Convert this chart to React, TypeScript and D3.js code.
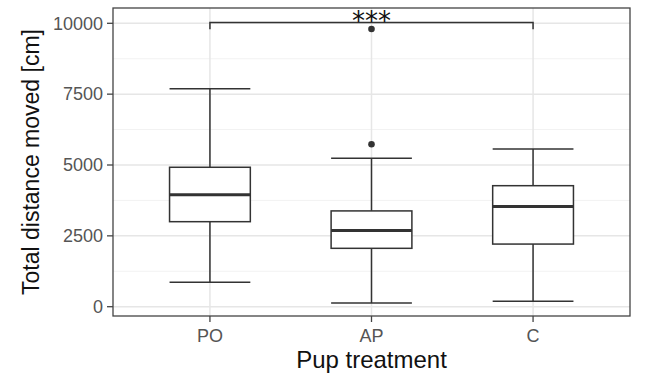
import React from "react";
import * as d3 from "d3";

const categories = ["PO", "AP", "C"];
const lowerWhisker = [860, 130, 190];
const q1Values = [3000, 2060, 2210];
const medianValues = [3950, 2690, 3540];
const q3Values = [4920, 3380, 4270];
const upperWhisker = [7690, 5235, 5565];
const outliers: { cat: string; value: number }[] = [
  { cat: "AP", value: 5730 },
  { cat: "AP", value: 9800 },
];
const yTicks = [0, 2500, 5000, 7500, 10000];
const yMinorTicks = [1250, 3750, 6250, 8750];
const bracket = { from: "PO", to: "C", y: 10030, tip: 9790, label: "***" };

const W = 650;
const H = 383;
const panel = { left: 113, right: 630, top: 8, bottom: 316 };

export default function App() {
  const x = d3
    .scaleBand<string>()
    .domain(categories)
    .range([panel.left, panel.right])
    .paddingOuter(0.1)
    .paddingInner(0);
  const xc = (c: string) => (x(c) as number) + x.bandwidth() / 2;
  const y = d3.scaleLinear().domain([0, 10000]).range([306.7, 23.3]);
  const boxW = x.bandwidth() * 0.5;
  const lineColor = "#333333";
  const font = "'Liberation Sans', Arial, sans-serif";

  return (
    <svg width={W} height={H} style={{ position: "absolute", left: 0, top: 0 }}>
      <rect x={0} y={0} width={W} height={H} fill="#fff" />
      {yMinorTicks.map((t) => (
        <line key={"m" + t} x1={panel.left} x2={panel.right} y1={y(t)} y2={y(t)} stroke="#f2f2f2" strokeWidth={1} />
      ))}
      {yTicks.map((t) => (
        <line key={"g" + t} x1={panel.left} x2={panel.right} y1={y(t)} y2={y(t)} stroke="#e6e6e6" strokeWidth={1.5} />
      ))}
      {categories.map((c) => (
        <line key={"gx" + c} x1={xc(c)} x2={xc(c)} y1={panel.top} y2={panel.bottom} stroke="#e6e6e6" strokeWidth={1.5} />
      ))}
      {categories.map((c, i) => {
        const cx = xc(c);
        return (
          <g key={c} stroke={lineColor} fill="none">
            <line x1={cx} x2={cx} y1={y(upperWhisker[i])} y2={y(q3Values[i])} strokeWidth={1.5} />
            <line x1={cx} x2={cx} y1={y(q1Values[i])} y2={y(lowerWhisker[i])} strokeWidth={1.5} />
            <line x1={cx - boxW / 2} x2={cx + boxW / 2} y1={y(upperWhisker[i])} y2={y(upperWhisker[i])} strokeWidth={1.5} />
            <line x1={cx - boxW / 2} x2={cx + boxW / 2} y1={y(lowerWhisker[i])} y2={y(lowerWhisker[i])} strokeWidth={1.5} />
            <rect x={cx - boxW / 2} y={y(q3Values[i])} width={boxW} height={y(q1Values[i]) - y(q3Values[i])} fill="#fff" strokeWidth={1.5} />
            <line x1={cx - boxW / 2} x2={cx + boxW / 2} y1={y(medianValues[i])} y2={y(medianValues[i])} strokeWidth={3} />
          </g>
        );
      })}
      {outliers.map((o, i) => (
        <circle key={"o" + i} cx={xc(o.cat)} cy={y(o.value)} r={3.3} fill={lineColor} />
      ))}
      <path
        d={`M${xc(bracket.from)},${y(bracket.tip)}V${y(bracket.y)}H${xc(bracket.to)}V${y(bracket.tip)}`}
        fill="none"
        stroke={lineColor}
        strokeWidth={1.5}
      />
      <text
        x={(xc(bracket.from) + xc(bracket.to)) / 2}
        y={y(bracket.y) + 8}
        textAnchor="middle"
        fontFamily="'DejaVu Sans', sans-serif"
        fontSize={26}
        fill="#111"
      >
        {bracket.label}
      </text>
      <rect
        x={panel.left}
        y={panel.top}
        width={panel.right - panel.left}
        height={panel.bottom - panel.top}
        fill="none"
        stroke="#444"
        strokeWidth={1.3}
      />
      {yTicks.map((t) => (
        <g key={"yt" + t}>
          <line x1={panel.left - 6} x2={panel.left} y1={y(t)} y2={y(t)} stroke="#444" strokeWidth={1.3} />
          <text x={panel.left - 10} y={y(t)} dy="0.35em" textAnchor="end" fontFamily={font} fontSize={18} fill="#555">
            {t}
          </text>
        </g>
      ))}
      {categories.map((c) => (
        <g key={"xt" + c}>
          <line x1={xc(c)} x2={xc(c)} y1={panel.bottom} y2={panel.bottom + 6} stroke="#444" strokeWidth={1.3} />
          <text x={xc(c)} y={panel.bottom + 26} textAnchor="middle" fontFamily={font} fontSize={18} fill="#555">
            {c}
          </text>
        </g>
      ))}
      <text
        x={(panel.left + panel.right) / 2}
        y={368}
        textAnchor="middle"
        fontFamily={font}
        fontSize={24}
        fill="#111"
      >
        Pup treatment
      </text>
      <text
        transform={`translate(39,${(panel.top + panel.bottom) / 2}) rotate(-90)`}
        textAnchor="middle"
        fontFamily={font}
        fontSize={23}
        fill="#111"
      >
        Total distance moved [cm]
      </text>
    </svg>
  );
}
